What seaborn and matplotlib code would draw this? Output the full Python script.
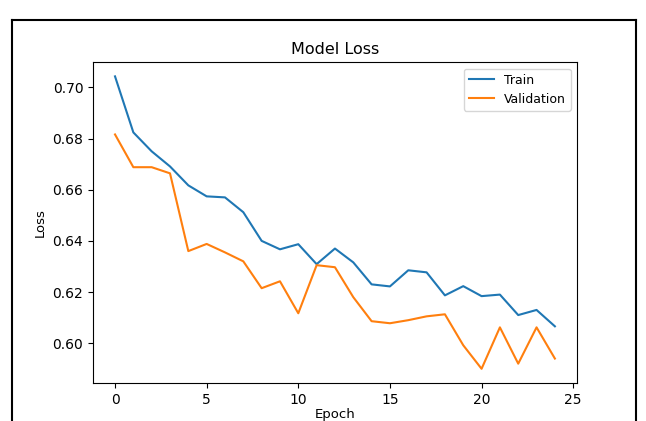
import pandas as pd
import matplotlib.pyplot as plt
from matplotlib.lines import Line2D
import seaborn as sns

# loss per epoch
epochs = list(range(25))
train_loss = [0.7043, 0.6824, 0.6750, 0.6691, 0.6617, 0.6574, 0.6570, 0.6512,
              0.6400, 0.6367, 0.6387, 0.6309, 0.6370, 0.6316, 0.6230, 0.6222,
              0.6285, 0.6277, 0.6187, 0.6223, 0.6184, 0.6190, 0.6110, 0.6130,
              0.6066]
val_loss = [0.6816, 0.6688, 0.6688, 0.6664, 0.6360, 0.6388, 0.6355, 0.6320,
            0.6215, 0.6242, 0.6117, 0.6305, 0.6297, 0.6180, 0.6086, 0.6078,
            0.6090, 0.6105, 0.6113, 0.5992, 0.5900, 0.6062, 0.5920, 0.6062,
            0.5940]

df = pd.DataFrame({'Epoch': epochs + epochs,
                   'Loss': train_loss + val_loss,
                   'set': ['Train'] * 25 + ['Validation'] * 25})

fig = plt.figure(figsize=(6.46, 4.21), dpi=100)
ax = fig.add_axes([0.144, 0.09, 0.749, 0.762])

sns.lineplot(data=df, x='Epoch', y='Loss', hue='set',
             palette=['#1f77b4', '#ff7f0e'], linewidth=1.5, ax=ax)

ax.set_title('Model Loss', fontsize=11.5)
ax.set_xlabel('Epoch', fontsize=9.5, labelpad=1)
ax.set_ylabel('Loss', fontsize=9.5)
ax.tick_params(labelsize=10)
ax.set_xticks([0, 5, 10, 15, 20, 25])
ax.set_yticks([0.60, 0.62, 0.64, 0.66, 0.68, 0.70])
ax.set_xlim(-1.2, 25.2)
ax.set_ylim(0.5844, 0.7098)
ax.legend(loc='upper right', fontsize=9, title=None)

# screenshot frame
fig.add_artist(Line2D([0.018, 0.018], [0.0, 0.953], color='black', lw=1.5))
fig.add_artist(Line2D([0.018, 0.984], [0.953, 0.953], color='black', lw=1.5))
fig.add_artist(Line2D([0.984, 0.984], [0.0, 0.953], color='black', lw=1.5))

plt.savefig('out.png', dpi=100)
